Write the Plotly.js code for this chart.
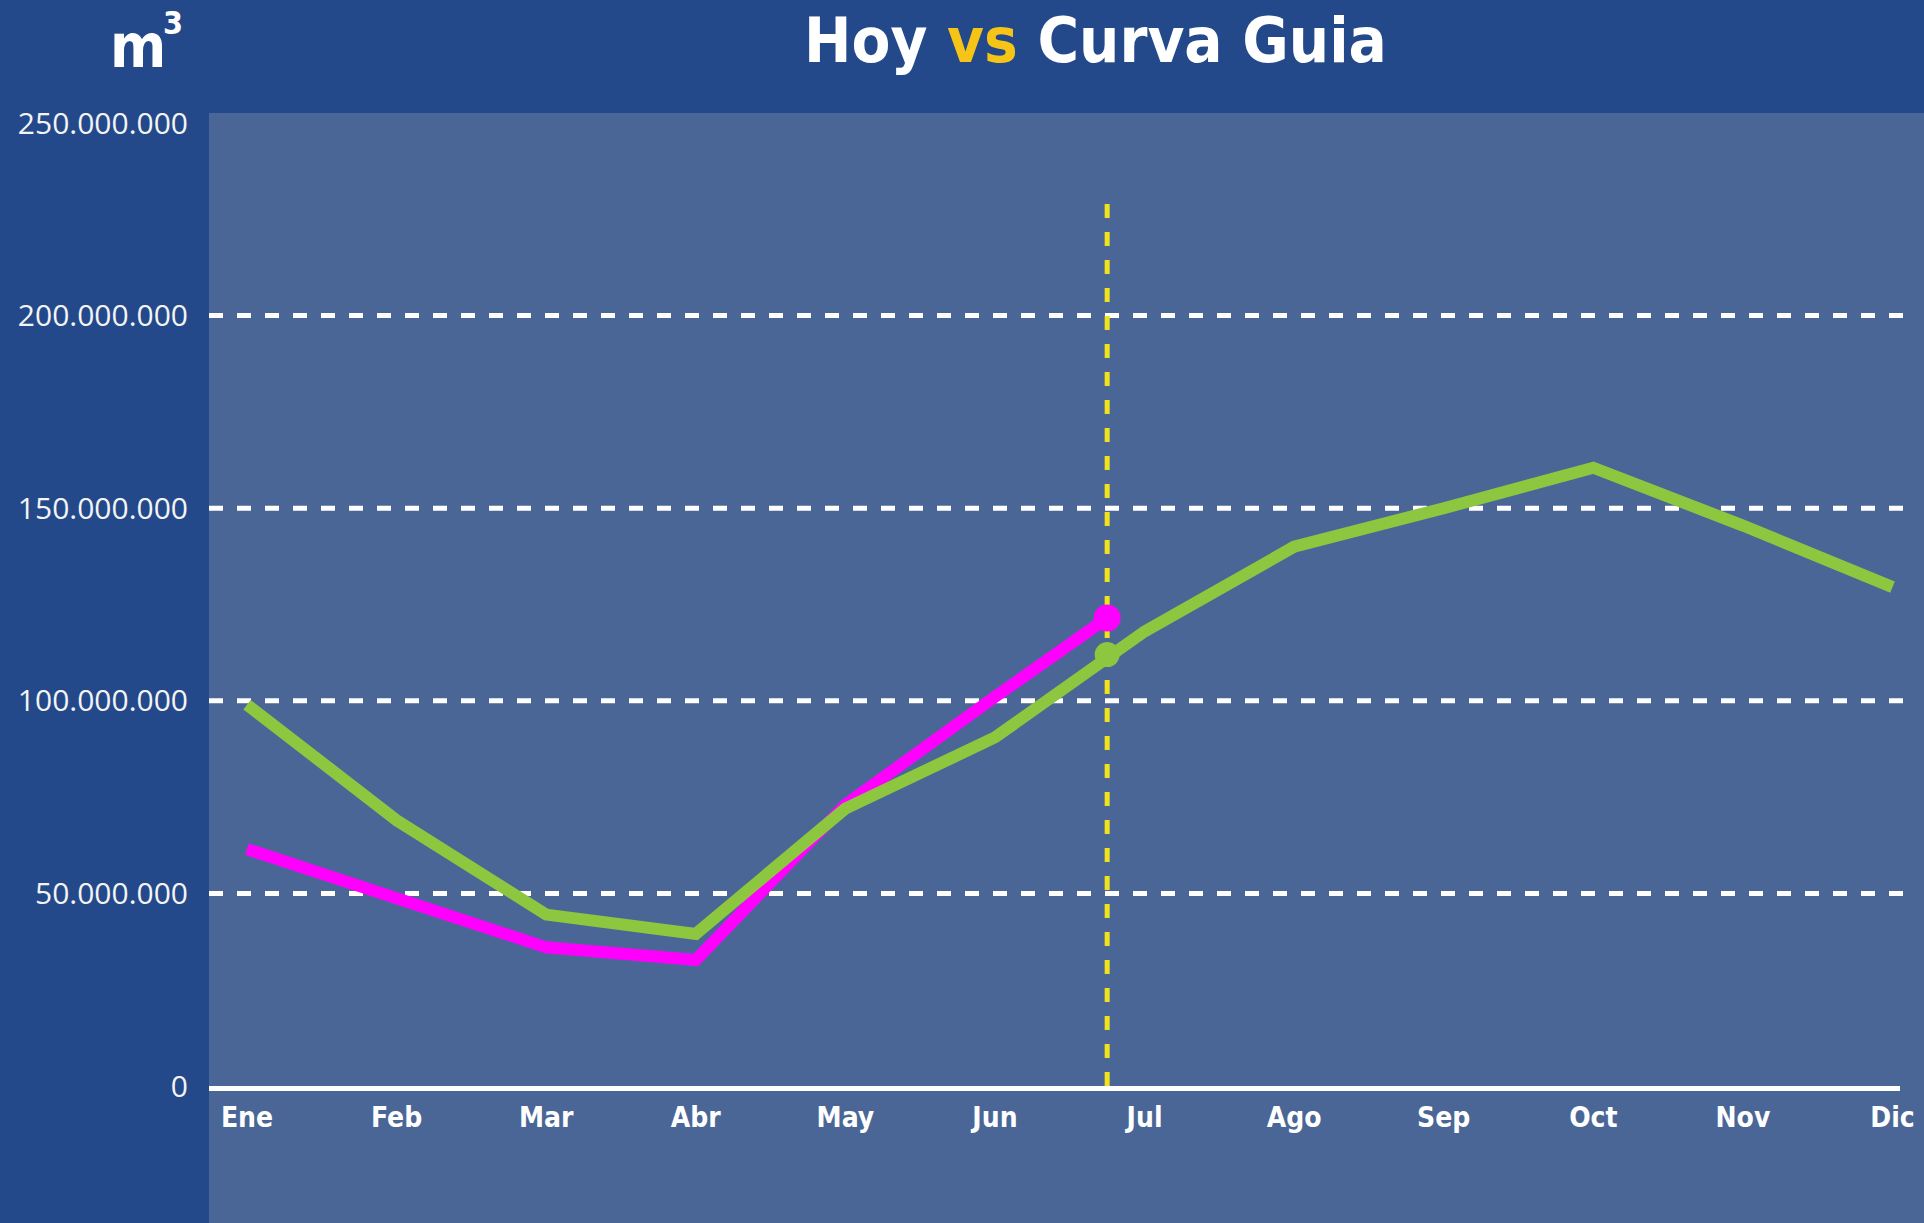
<!DOCTYPE html>
<html>
<head>
<meta charset="utf-8">
<script src="https://cdn.plot.ly/plotly-3.0.1.min.js"></script>
<style>
  html, body { margin: 0; padding: 0; background: #23498a; }
  #plotArea { width: 1924px; height: 1223px; }
</style>
</head>
<body>
<div id="plotArea"></div>
<script>
// months on the x axis
var meses = ["Ene", "Feb", "Mar", "Abr", "May", "Jun", "Jul", "Ago", "Sep", "Oct", "Nov", "Dic"];
var mesX = [0, 1, 2, 3, 4, 5, 6, 7, 8, 9, 10, 11];

// guide curve, m3 per month
var curvaGuia = [99000000, 69000000, 44500000, 39500000, 72000000, 90500000, 118000000, 140000000, 150000000, 160500000, 145500000, 129500000];

// this year so far, last point is today
var hoyPos = 5.75;
var hoyVol = [61500000, 49000000, 36000000, 32700000, 73000000, 101000000, 121500000];
var hoyGuiaVol = 112000000;   // guide curve at today

var yTicks = [0, 50000000, 100000000, 150000000, 200000000, 250000000];
var yTickText = ["0", "50.000.000", "100.000.000", "150.000.000", "200.000.000", "250.000.000"];
var gridVals = [50000000, 100000000, 150000000, 200000000];
var hoyLineTop = 230000000;

var verde = "#8dc63f";
var magenta = "#ff00ff";
var panel = "#4a6696";
var condensed = "DejaVu Sans Condensed, Liberation Sans Narrow, sans-serif";

var hoyX = mesX.slice(0, 6).concat([hoyPos]);

var traceHoy = {
    x: hoyX,
    y: hoyVol,
    type: "scatter",
    mode: "lines",
    line: {color: magenta, width: 12},
    hoverinfo: "skip"
};
var traceGuia = {
    x: mesX,
    y: curvaGuia,
    type: "scatter",
    mode: "lines",
    line: {color: verde, width: 12},
    hoverinfo: "skip"
};
var traceMarks = {
    x: [hoyPos, hoyPos],
    y: [hoyVol[hoyVol.length - 1], hoyGuiaVol],
    type: "scatter",
    mode: "markers",
    marker: {color: [magenta, verde], size: [27, 25], opacity: 1, line: {width: 0}},
    hoverinfo: "skip"
};

var shapes = [
    // lighter panel, runs past the plot to the right and bottom edges
    {type: "rect", xref: "paper", yref: "paper", x0: 0, x1: 1.03, y0: -0.2, y1: 1,
     fillcolor: panel, line: {width: 0}, layer: "below"},
    // today
    {type: "line", xref: "x", yref: "y", x0: hoyPos, x1: hoyPos, y0: 0, y1: hoyLineTop,
     line: {color: "#f2e21c", width: 5, dash: "14px,14px"}, layer: "below"}
];
gridVals.forEach(function (v) {
    shapes.push({type: "line", xref: "paper", yref: "y", x0: 0, x1: 1.002, y0: v, y1: v,
                 line: {color: "#ffffff", width: 5, dash: "14px,14px"}, layer: "below"});
});

var layout = {
    width: 1924,
    height: 1223,
    margin: {l: 209, r: 24, t: 113, b: 137},
    paper_bgcolor: "#23498a",
    plot_bgcolor: panel,
    showlegend: false,
    xaxis: {
        range: [-0.254, 11.05],
        tickvals: mesX,
        ticktext: meses,
        showgrid: false,
        zeroline: false,
        showline: true,
        linecolor: "#ffffff",
        linewidth: 5,
        ticks: "",
        ticklabelstandoff: 2,
        tickfont: {family: condensed, size: 28, weight: 700, color: "#ffffff"}
    },
    yaxis: {
        range: [0, 252600000],
        tickvals: yTicks,
        ticktext: yTickText,
        showgrid: false,
        zeroline: false,
        showline: false,
        ticks: "",
        ticklabelstandoff: 20,
        tickfont: {family: "Open Sans, sans-serif", size: 30, color: "#f4f4f4"}
    },
    shapes: shapes,
    annotations: [
        {text: "Hoy <span style='color:#f6c416'>vs</span> Curva Guia", xref: "paper", yref: "paper",
         x: 0.5245, y: 1.1145, xanchor: "center", yanchor: "top", showarrow: false,
         font: {family: condensed, size: 63, weight: 700, color: "#ffffff"}},
        {text: "m", xref: "paper", yref: "paper", x: -0.042, y: 1.069, xanchor: "center", yanchor: "middle",
         showarrow: false, font: {family: condensed, size: 60, weight: 700, color: "#ffffff"}},
        {text: "3", xref: "paper", yref: "paper", x: -0.021, y: 1.092, xanchor: "center", yanchor: "middle",
         showarrow: false, font: {family: condensed, size: 32, weight: 700, color: "#ffffff"}}
    ]
};

Plotly.newPlot("plotArea", [traceHoy, traceGuia, traceMarks], layout, {displayModeBar: false, staticPlot: true});
</script>
</body>
</html>
